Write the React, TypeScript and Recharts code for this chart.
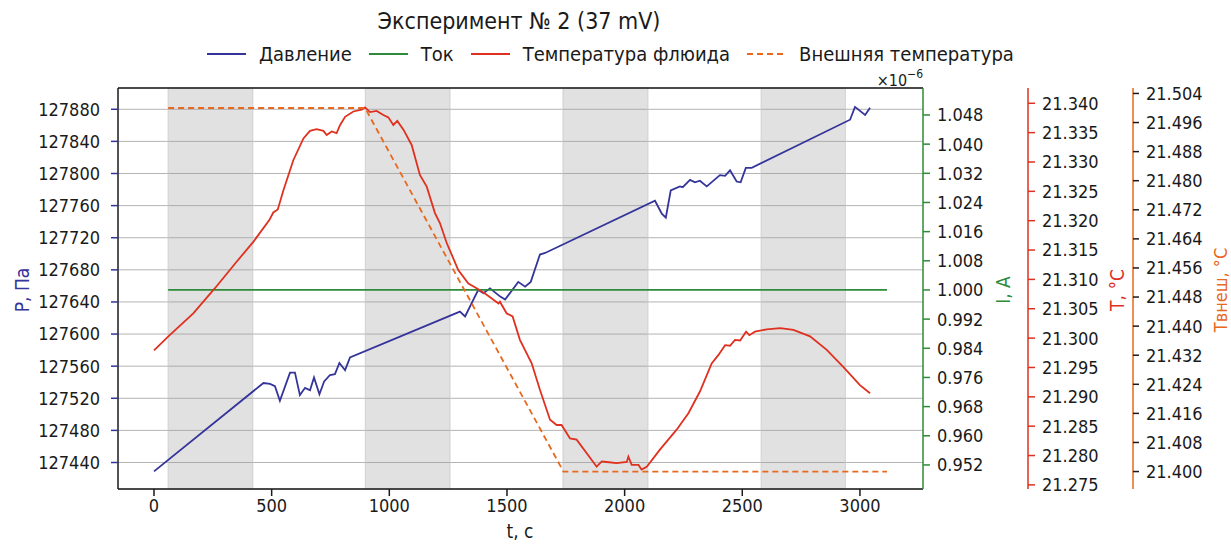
import React from 'react';
import { LineChart, Line, XAxis, YAxis, CartesianGrid, ReferenceArea, ReferenceLine } from 'recharts';

const FONT = "'DejaVu Sans Condensed', 'DejaVu Sans', sans-serif";

const C_P = '#34349a';
const C_I = '#2e8b3a';
const C_T = '#e0301f';
const C_TE = '#e8681e';

// time axis
const xTicks = [0, 500, 1000, 1500, 2000, 2500, 3000];
const shadedBands = [[60, 420], [898, 1258], [1738, 2099], [2580, 2938]];

// pressure, Pa
const pressureTime = [0, 465, 493, 514, 535, 578, 599, 620, 642, 663, 680, 703, 723, 748, 769, 788, 812, 833,
  1300, 1322, 1378, 1400, 1428, 1470, 1492, 1548, 1577, 1601, 1640, 1662, 2129, 2158, 2175, 2196, 2235, 2247,
  2278, 2299, 2320, 2349, 2405, 2427, 2448, 2476, 2493, 2515, 2540, 2958, 2979, 3022, 3043];
const pressureValue = [127429, 127539, 127538, 127535, 127517, 127552, 127552, 127524, 127533, 127530, 127546,
  127525, 127541, 127549, 127550, 127564, 127555, 127571, 127628, 127622, 127655, 127651, 127657, 127647, 127643,
  127665, 127659, 127665, 127699, 127701, 127766, 127750, 127745, 127779, 127784, 127783, 127792, 127789, 127791,
  127784, 127798, 127797, 127804, 127790, 127789, 127807, 127807, 127867, 127883, 127873, 127882];
const pressureTicks = [127440, 127480, 127520, 127560, 127600, 127640, 127680, 127720, 127760, 127800, 127840, 127880];

// current, x1e-6 A
const currentTime = [60, 3115];
const currentValue = [1.0, 1.0];
const currentTicks = [0.952, 0.96, 0.968, 0.976, 0.984, 0.992, 1.0, 1.008, 1.016, 1.024, 1.032, 1.04, 1.048];

// fluid temperature, C
const fluidTime = [0, 61, 167, 259, 351, 422, 490, 507, 526, 550, 592, 635, 663, 691, 720, 734, 755, 776, 791,
  812, 847, 883, 897, 918, 946, 975, 996, 1017, 1034, 1060, 1095, 1130, 1159, 1194, 1215, 1244, 1293, 1336, 1371,
  1414, 1464, 1470, 1499, 1524, 1555, 1605, 1640, 1683, 1711, 1732, 1768, 1796, 1839, 1881, 1903, 1924, 1966,
  2009, 2016, 2030, 2059, 2072, 2094, 2150, 2221, 2271, 2320, 2370, 2398, 2427, 2448, 2469, 2491, 2516, 2530,
  2554, 2604, 2661, 2717, 2788, 2859, 2929, 3000, 3043];
const fluidValue = [21.2979, 21.3003, 21.3042, 21.3085, 21.313, 21.3164, 21.3201, 21.3214, 21.3219, 21.3252,
  21.3303, 21.334, 21.3353, 21.3356, 21.3353, 21.3346, 21.3352, 21.3349, 21.3363, 21.3377, 21.3386, 21.3389,
  21.3393, 21.3385, 21.3387, 21.338, 21.3376, 21.3363, 21.337, 21.3355, 21.3329, 21.3278, 21.3258, 21.3213,
  21.3196, 21.3162, 21.3116, 21.3093, 21.3085, 21.3074, 21.3059, 21.3062, 21.3042, 21.3037, 21.2997, 21.2957,
  21.2912, 21.2861, 21.2852, 21.2852, 21.2829, 21.2827, 21.2804, 21.2781, 21.279, 21.2789, 21.2787, 21.2789,
  21.2798, 21.2784, 21.2784, 21.2776, 21.2781, 21.281, 21.2844, 21.2872, 21.2909, 21.2957, 21.2971, 21.2988,
  21.2987, 21.2997, 21.2996, 21.3011, 21.3005, 21.3011, 21.3015, 21.3017, 21.3014, 21.3003, 21.298, 21.2951,
  21.292, 21.2906];
const fluidTicks = [21.275, 21.28, 21.285, 21.29, 21.295, 21.3, 21.305, 21.31, 21.315, 21.32, 21.325, 21.33, 21.335, 21.34];

// external temperature, C
const extTime = [60, 897, 1740, 3115];
const extValue = [21.5, 21.5, 21.4, 21.4];
const extTicks = [21.4, 21.408, 21.416, 21.424, 21.432, 21.44, 21.448, 21.456, 21.464, 21.472, 21.48, 21.488, 21.496, 21.504];

const legendItems = [
  { name: 'Давление', color: C_P, dash: false },
  { name: 'Ток', color: C_I, dash: false },
  { name: 'Температура флюида', color: C_T, dash: false },
  { name: 'Внешняя температура', color: C_TE, dash: true },
];

const pressureData = pressureTime.map((t, i) => ({ t, P: pressureValue[i] }));
const currentData = currentTime.map((t, i) => ({ t, I: currentValue[i] }));
const fluidData = fluidTime.map((t, i) => ({ t, T: fluidValue[i] }));
const extData = extTime.map((t, i) => ({ t, Te: extValue[i] }));

const tickStyle = { fill: '#1a1a1a', fontSize: 18, fontFamily: FONT };
const fmt3 = (v: number) => v.toFixed(3);

const App = () => {
  return (
    <div style={{ position: 'absolute', left: 0, top: 0, width: 1231, height: 546, background: '#fff' }}>
      <LineChart width={1231} height={546} margin={{ top: 88, right: 0, left: 10, bottom: 0 }}>
        {shadedBands.map(([a, b]) => (
          <ReferenceArea key={a} x1={a} x2={b} yAxisId="p" fill="#9a9a9a" fillOpacity={0.3} stroke="#c8c8c8" strokeOpacity={0.8} />
        ))}
        <CartesianGrid vertical={false} yAxisId="p" stroke="#b4b4b4" strokeWidth={1} />
        <XAxis dataKey="t" type="number" domain={[-153, 3268]} ticks={xTicks} allowDataOverflow height={57}
          stroke="#1a1a1a" strokeWidth={1.5} tickSize={7} tickMargin={3} tick={tickStyle} interval={0} />
        <YAxis yAxisId="p" orientation="left" type="number" domain={[127407, 127906.5]} ticks={pressureTicks}
          allowDataOverflow width={108} axisLine={{ stroke: '#1a1a1a', strokeWidth: 1.5 }}
          tickLine={{ stroke: C_P, strokeWidth: 1.5 }} tickSize={7} tickMargin={11} tick={tickStyle} interval={0} />
        <YAxis yAxisId="i" orientation="right" type="number" domain={[0.9454, 1.0554]} ticks={currentTicks}
          allowDataOverflow width={105} axisLine={{ stroke: C_I, strokeWidth: 1.5 }}
          tickLine={{ stroke: C_I, strokeWidth: 1.5 }} tickSize={7} tickMargin={7} tick={tickStyle}
          tickFormatter={fmt3} interval={0} />
        <YAxis yAxisId="t" orientation="right" type="number" domain={[21.2743, 21.3426]} ticks={fluidTicks}
          allowDataOverflow width={105} axisLine={{ stroke: C_T, strokeWidth: 1.5 }}
          tickLine={{ stroke: C_T, strokeWidth: 1.5 }} tickSize={7} tickMargin={7} tick={tickStyle}
          tickFormatter={fmt3} interval={0} />
        <YAxis yAxisId="te" orientation="right" type="number" domain={[21.3952, 21.5055]} ticks={extTicks}
          allowDataOverflow width={98} axisLine={{ stroke: C_TE, strokeWidth: 1.5 }}
          tickLine={{ stroke: '#1a1a1a', strokeWidth: 1.5 }} tickSize={6} tickMargin={7} tick={tickStyle}
          tickFormatter={fmt3} interval={0} />
        <ReferenceLine yAxisId="p" y={127906.5} stroke="#1a1a1a" strokeWidth={1.5} />
        <Line yAxisId="p" data={pressureData} dataKey="P" stroke={C_P} strokeWidth={1.8} dot={false} type="linear" isAnimationActive={false} />
        <Line yAxisId="i" data={currentData} dataKey="I" stroke={C_I} strokeWidth={1.8} dot={false} type="linear" isAnimationActive={false} />
        <Line yAxisId="t" data={fluidData} dataKey="T" stroke={C_T} strokeWidth={1.8} dot={false} type="linear" isAnimationActive={false} />
        <Line yAxisId="te" data={extData} dataKey="Te" stroke={C_TE} strokeWidth={1.8} strokeDasharray="6 4" dot={false} type="linear" isAnimationActive={false} />
      </LineChart>
      <div style={{ position: 'absolute', top: 42, left: 207, display: 'flex', alignItems: 'center', fontFamily: FONT, fontSize: 20, color: '#1a1a1a', lineHeight: '24px', whiteSpace: 'nowrap' }}>
        {legendItems.map(it => (
          <div key={it.name} style={{ display: 'flex', alignItems: 'center', marginRight: 17 }}>
            <svg width={39} height={10} style={{ marginRight: 13 }}>
              <line x1={0} y1={5} x2={39} y2={5} stroke={it.color} strokeWidth={1.8} strokeDasharray={it.dash ? '6 4' : undefined} />
            </svg>
            <span>{it.name}</span>
          </div>
        ))}
      </div>
      <svg width={1231} height={546} style={{ position: 'absolute', left: 0, top: 0, pointerEvents: 'none', fontFamily: FONT }}>
        <text x={519} y={21} textAnchor="middle" dominantBaseline="central" fontSize={23} fill="#1a1a1a">Эксперимент № 2 (37 mV)</text>
        <text x={923} y={80} textAnchor="end" dominantBaseline="central" fontSize={16} fill="#1a1a1a">
          ×10<tspan dy={-6} fontSize={12}>−6</tspan>
        </text>
        <text x={520} y={531} textAnchor="middle" dominantBaseline="central" fontSize={19} fill="#1a1a1a">t, c</text>
        <text transform="translate(22,290) rotate(-90)" textAnchor="middle" dominantBaseline="central" fontSize={19} fill={C_P}>P, Па</text>
        <text transform="translate(1003,290) rotate(-90)" textAnchor="middle" dominantBaseline="central" fontSize={19} fill={C_I}>I, A</text>
        <text transform="translate(1117,290) rotate(-90)" textAnchor="middle" dominantBaseline="central" fontSize={19} fill={C_T}>T, °C</text>
        <text transform="translate(1220,290) rotate(-90)" textAnchor="middle" dominantBaseline="central" fontSize={18} fill={C_TE}>Твнеш, °C</text>
      </svg>
    </div>
  );
};

export default App;
